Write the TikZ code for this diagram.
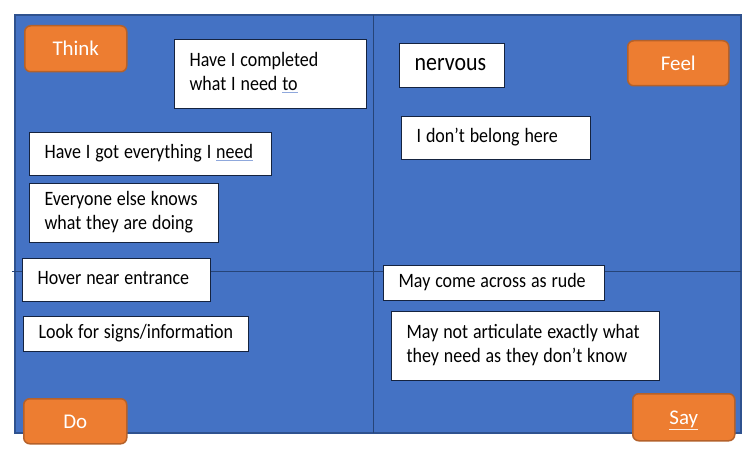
\documentclass[tikz,border=0pt]{standalone}
\usepackage{fontspec}
\setmainfont{Carlito}
\newfontfamily\notefont{Carlito}[FakeStretch=0.88]
\definecolor{qblue}{HTML}{4472C4}
\definecolor{qedge}{HTML}{2F528F}
\definecolor{qline}{HTML}{264478}
\definecolor{qorange}{HTML}{ED7D31}
\definecolor{qoedge}{HTML}{B5612A}
\definecolor{qnavy}{HTML}{15233F}
\definecolor{qspell}{HTML}{8FA8DC}
\newcommand\spellmark[1]{{\color{qspell}\underline{\textcolor{black}{#1}}}}
\newcommand\pd{\hspace*{15bp}\strut}
\newcommand\notesetup{\notefont\fontsize{20.5}{24}\selectfont}
\newcommand\nervsetup{\notefont\fontsize{25}{26}\selectfont}
\newcommand\tightspace{\spaceskip 4.9bp\relax}
\tikzset{
  note/.style={draw=qnavy, fill=white, line width=1.2bp, anchor=north west,
    inner xsep=0pt, inner ysep=0pt, align=left,
    font=\notesetup, text=black},
  tag/.style={draw=qoedge, fill=qorange, line width=1.5bp, rounded corners=6bp,
    anchor=north west, inner sep=0pt, text=white, text height=13.8bp, text depth=0pt,
    font=\fontsize{21}{24}\selectfont},
  divider/.style={draw=qline, line width=1bp}
}
\begin{document}
\begin{tikzpicture}[x=1bp,y=-1bp]
\useasboundingbox (0,0) rectangle (756,453);
\fill[white] (0,0) rectangle (756,453);
% board
\draw[fill=qblue, draw=qedge, line width=1.2bp] (15,15) rectangle (741,433);
\coordinate (vtop) at (373,15);
\coordinate (vbot) at (373,433);
\coordinate (hleft) at (12,272);
\coordinate (hright) at (741,272);
\draw[divider] (vtop) -- (vbot);
\draw[divider] (hleft) -- (hright);
% Think quadrant
\node[note, text width=192bp, minimum height=69bp] (comp) at (174,39)
  {\tightspace\pd Have I completed\strut\\\pd what I need \spellmark{to}\strut};
\node[note, text width=242bp, minimum height=43bp] (got) at (29,132)
  {\tightspace\pd Have I got everything I \spellmark{need}\strut};
\node[note, text width=189bp, minimum height=59bp] (every) at (29,183)
  {\tightspace\pd Everyone else knows\strut\\\pd what they are doing\strut};
% Do quadrant
\node[note, text width=188bp, minimum height=43bp] (hover) at (22,258)
  {\tightspace\pd Hover near entrance\strut};
\node[note, text width=225bp, minimum height=35bp] (look) at (23,316)
  {\tightspace\pd Look for signs/information\strut};
% Feel quadrant
\node[note, text width=105bp, minimum height=44bp, font=\nervsetup] (nerv) at (399,43)
  {\pd nervous\strut};
\node[note, text width=189bp, minimum height=43bp] (belong) at (401,116)
  {\tightspace\pd I don’t belong here\strut};
% Say quadrant
\node[note, text width=221bp, minimum height=35bp] (rude) at (383,265)
  {\tightspace\pd May come across as rude\strut};
\node[note, text width=268bp, minimum height=69bp] (artic) at (391,311)
  {\tightspace\pd May not articulate exactly what\strut\\\pd they need as they don’t know\strut};
% tags
\node[tag, minimum width=102bp, minimum height=46bp] (think) at (24,25) {Think};
\node[tag, minimum width=101bp, minimum height=45bp] (feel) at (627,40) {Feel};
\node[tag, minimum width=103bp, minimum height=45bp] (do) at (23,398) {Do};
\node[tag, minimum width=102bp, minimum height=47bp] (say) at (632,393) {{\color{white!85!qorange}\underline{\textcolor{white}{Say}}}};
\end{tikzpicture}
\end{document}
